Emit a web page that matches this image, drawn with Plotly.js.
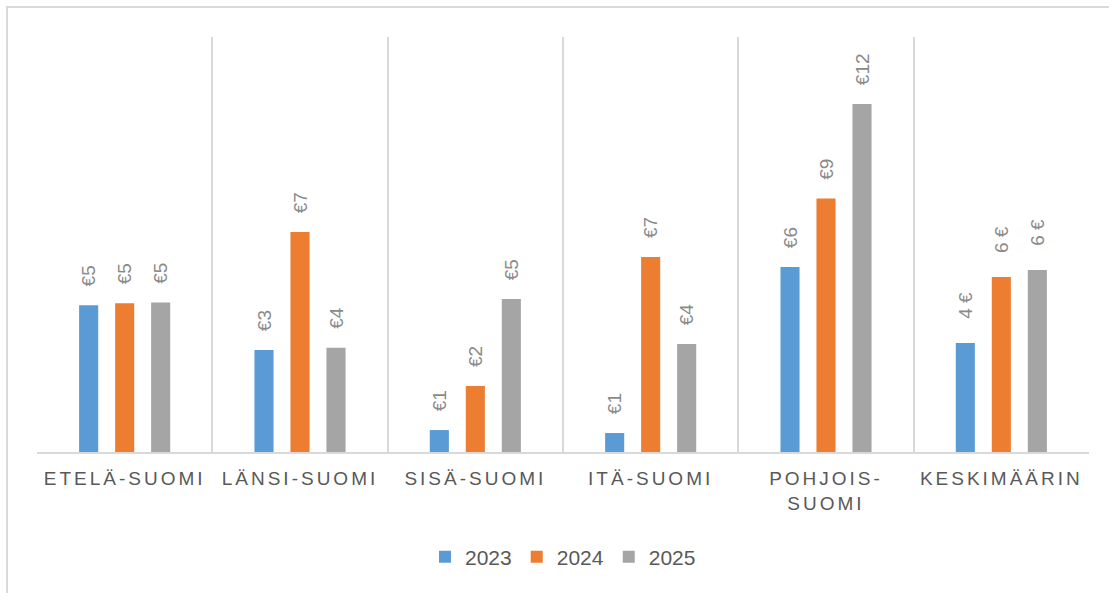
<!DOCTYPE html>
<html>
<head>
<meta charset="utf-8">
<script src="https://cdn.plot.ly/plotly-3.0.1.min.js"></script>
<style>
html, body { margin: 0; padding: 0; background: #ffffff; }
#chart { width: 1109px; height: 593px; }
.xtick text { letter-spacing: 3px; }
</style>
</head>
<body>
<div id="chart"></div>
<script>
// Categories (x tick labels)
const categories = ["ETELÄ-SUOMI", "LÄNSI-SUOMI", "SISÄ-SUOMI", "ITÄ-SUOMI", "POHJOIS-<br>SUOMI", "KESKIMÄÄRIN"];
// Series names
const seriesNames = ["2023", "2024", "2025"];
// Values (€)
const values2023 = [4.95, 3.44, 0.74, 0.64, 6.24, 3.68];
const values2024 = [5.02, 7.42, 2.23, 6.58, 8.55, 5.90];
const values2025 = [5.04, 3.52, 5.16, 3.64, 11.74, 6.14];
// Data label formats: euro sign before the number for regions, after it for the average
const labelFormats = ["€%{y:.0f}", "€%{y:.0f}", "€%{y:.0f}", "€%{y:.0f}", "€%{y:.0f}", "%{y:.0f} €"];

const colors = ["#5B9BD5", "#ED7D31", "#A5A5A5"];
const allValues = [values2023, values2024, values2025];
const pad = "\u00a0\u00a0\u00a0";

const traces = allValues.map((vals, i) => ({
  type: "bar",
  name: seriesNames[i],
  x: categories,
  y: vals,
  marker: { color: colors[i] },
  texttemplate: labelFormats.map((f, j) => (j === labelFormats.length - 1 ? pad + "\u00a0" : pad) + f),
  textposition: "outside",
  textangle: -90,
  constraintext: "none",
  cliponaxis: false,
  textfont: { family: "Liberation Sans, Arial, sans-serif", size: 19, color: "#8a8a8a" },
  hoverinfo: "skip"
}));

const layout = {
  width: 1109,
  height: 593,
  margin: { l: 37, r: 20, t: 37, b: 141 },
  paper_bgcolor: "#ffffff",
  plot_bgcolor: "#ffffff",
  font: { family: "Liberation Sans, Arial, sans-serif", color: "#595959" },
  barmode: "group",
  bargap: 0.384,
  bargroupgap: 0.47,
  showlegend: true,
  legend: {
    orientation: "h",
    x: 0.5,
    xanchor: "center",
    y: -0.253,
    yanchor: "middle",
    font: { size: 21, color: "#595959" },
    itemwidth: 30,
    traceorder: "normal"
  },
  xaxis: {
    type: "category",
    tickson: "boundaries",
    ticks: "",
    showgrid: true,
    gridcolor: "#d9d9d9",
    gridwidth: 2,
    showline: true,
    linecolor: "#d9d9d9",
    linewidth: 2,
    tickfont: { size: 19, color: "#595959" },
    ticklabelstandoff: 8,
    automargin: false,
    fixedrange: true
  },
  yaxis: {
    range: [0, 14],
    showticklabels: false,
    showgrid: false,
    zeroline: false,
    showline: false,
    ticks: "",
    automargin: false,
    fixedrange: true
  },
  shapes: [{
    type: "rect",
    xref: "paper",
    yref: "paper",
    x0: -0.0285,
    x1: 1.2,
    y0: -0.6,
    y1: 1.0723,
    line: { color: "#d9d9d9", width: 2 },
    fillcolor: "rgba(0,0,0,0)",
    layer: "below"
  }]
};

Plotly.newPlot("chart", traces, layout, { displayModeBar: false, staticPlot: true });
</script>
</body>
</html>
